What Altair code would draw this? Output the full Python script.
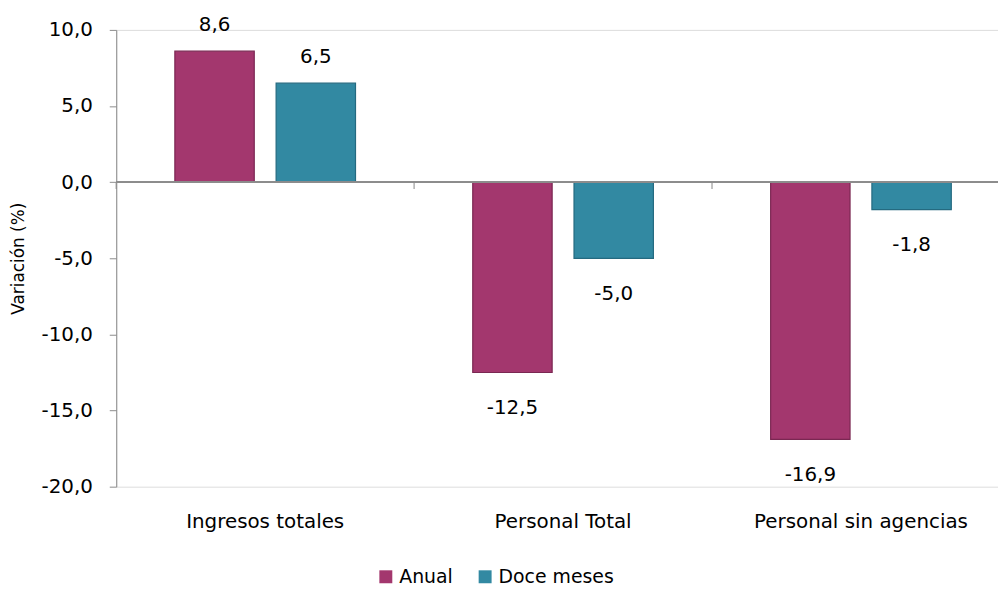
import altair as alt
import pandas as pd

categories = ["Ingresos totales", "Personal Total", "Personal sin agencias"]
series = ["Anual", "Doce meses"]
anual = [8.6, -12.5, -16.9]
doce = [6.5, -5.0, -1.8]
y_ticks = [-20, -15, -10, -5, 0, 5, 10]
fill_colors = ["#A3376E", "#3289A2"]
edge_colors = ["#7A2752", "#246A80"]

rows = []
for c, a, d in zip(categories, anual, doce):
    for s, v in zip(series, [a, d]):
        rows.append({"cat": c, "serie": s, "v": v,
                     "lab": f"{v:.1f}".replace(".", ",")})
df = pd.DataFrame(rows)
cat_df = pd.DataFrame({"cat": categories})

FONT = "DejaVu Sans"
GRAY = "#8C8C8C"
W, H = 900, 460

x_scale = alt.Scale(paddingInner=0, paddingOuter=0)
xo_scale = alt.Scale(paddingInner=0.216, paddingOuter=0.579)
y_scale = alt.Scale(domain=[-20, 10], nice=False, zero=False)

base = alt.Chart(df)

bars = base.mark_bar(strokeWidth=1.2).encode(
    x=alt.X("cat:N", sort=categories, scale=x_scale,
            axis=alt.Axis(title=None, labelAngle=0, ticks=False, domain=False,
                          labelPadding=25, labelFontSize=20, labelFont=FONT,
                          labelColor="#000000", labelLimit=0)),
    xOffset=alt.XOffset("serie:N", sort=series, scale=xo_scale),
    y=alt.Y("v:Q", scale=y_scale,
            axis=alt.Axis(values=y_ticks, grid=False, domainColor=GRAY,
                          tickColor=GRAY, tickSize=7, labelPadding=17,
                          labelFontSize=20, labelFont=FONT, labelColor="#000000",
                          labelExpr="(datum.value < 0 ? '-' : '') + replace(format(abs(datum.value), '.1f'), '.', ',')",
                          title="Variación (%)", titleFont=FONT, titleFontSize=17,
                          titleFontWeight="normal", titleColor="#000000",
                          titleX=-98, titleY=H / 2, titleAngle=270,
                          titleBaseline="middle", titleAlign="center")),
    color=alt.Color("serie:N", sort=series,
                    scale=alt.Scale(domain=series, range=fill_colors),
                    legend=alt.Legend(title=None, orient="none", direction="horizontal",
                                      legendX=262, legendY=541, symbolType="square",
                                      symbolSize=170, symbolStrokeWidth=0,
                                      labelFontSize=19, labelFont=FONT,
                                      labelColor="#000000", columnPadding=22,
                                      labelOffset=4, padding=0)),
    stroke=alt.Stroke("serie:N", sort=series,
                      scale=alt.Scale(domain=series, range=edge_colors), legend=None),
)

zero = alt.Chart(df).mark_rule(color=GRAY, strokeWidth=1.5).encode(y=alt.datum(0))

cat_ticks = alt.Chart(cat_df).mark_tick(
    orient="vertical", size=7, yOffset=3.5, color=GRAY, thickness=1.5
).encode(
    x=alt.X("cat:N", sort=categories, scale=x_scale, bandPosition=0, axis=None),
    y=alt.datum(0),
)

pos_lab = base.transform_filter("datum.v >= 0").mark_text(
    baseline="middle", dy=-26, fontSize=20, font=FONT, color="#000000"
).encode(
    x=alt.X("cat:N", sort=categories, scale=x_scale, axis=None),
    xOffset=alt.XOffset("serie:N", sort=series, scale=xo_scale),
    y=alt.Y("v:Q", scale=y_scale),
    text="lab:N",
)

neg_lab = base.transform_filter("datum.v < 0").mark_text(
    baseline="middle", dy=36, fontSize=20, font=FONT, color="#000000"
).encode(
    x=alt.X("cat:N", sort=categories, scale=x_scale, axis=None),
    xOffset=alt.XOffset("serie:N", sort=series, scale=xo_scale),
    y=alt.Y("v:Q", scale=y_scale),
    text="lab:N",
)

chart = alt.layer(bars, zero, cat_ticks, pos_lab, neg_lab).resolve_axis(x="independent").properties(
    width=W, height=H,
    autosize=alt.AutoSizeParams(type="none"),
    padding={"left": 109, "top": 20, "right": -12, "bottom": 100},
).configure_view(stroke=None).configure(background="#FFFFFF")

chart.save("out.html", embed_options={"renderer": "svg", "actions": False})
